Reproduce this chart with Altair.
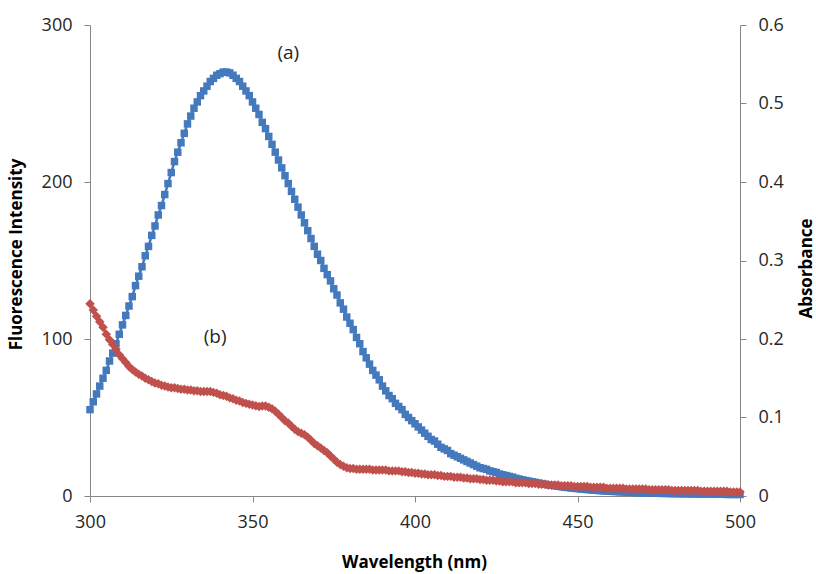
import altair as alt
import pandas as pd

wavelength = list(range(300, 501))

fluorescence = [
    55, 60, 65, 70, 75, 80, 86, 91, 97, 103,
    109, 115, 121, 127, 134, 140, 146, 153, 159, 166,
    172, 179, 185, 192, 199, 206, 213, 219, 225, 231,
    237, 242, 247, 251, 255, 258, 261, 264, 266, 268,
    269, 270, 270, 269.5, 268, 266, 264, 261, 258, 255,
    251, 247, 243, 238, 234, 229, 224, 219, 214, 209,
    204, 199, 194, 189, 184, 179, 174, 169, 164, 159,
    154, 150, 145, 141, 137, 132, 128, 123, 119, 114,
    110, 106, 101, 97, 92, 88, 84, 80, 77, 74,
    70, 67, 64, 62, 59, 57, 55, 52, 50, 48,
    46, 44, 42, 40, 38, 36, 35, 33, 31, 30,
    29, 27, 26, 25, 24, 23, 22, 21, 20, 19,
    18, 17.5, 17, 16, 15.5, 15, 14, 13.5, 13, 12.5,
    12, 11.3, 10.8, 10.3, 9.9, 9.5, 9.1, 8.7, 8.3, 7.9,
    7.5, 7.1, 6.8, 6.5, 6.2, 5.9, 5.6, 5.4, 5.1, 4.9,
    4.7, 4.5, 4.3, 4.1, 3.9, 3.7, 3.6, 3.4, 3.3, 3.1,
    3.0, 2.9, 2.8, 2.7, 2.6, 2.5, 2.4, 2.3, 2.2, 2.1,
    2.0, 1.9, 1.9, 1.8, 1.8, 1.7, 1.7, 1.6, 1.6, 1.5,
    1.5, 1.5, 1.4, 1.4, 1.4, 1.3, 1.3, 1.3, 1.2, 1.2,
    1.2, 1.2, 1.1, 1.1, 1.1, 1.1, 1.0, 1.0, 1.0, 1.0,
    1.0,
]

absorbance = [
    0.245, 0.237, 0.229, 0.222, 0.215, 0.206, 0.199, 0.193, 0.187, 0.180,
    0.175, 0.170, 0.165, 0.161, 0.158, 0.155, 0.153, 0.150, 0.148, 0.146,
    0.144, 0.143, 0.141, 0.140, 0.139, 0.138, 0.138, 0.137, 0.136, 0.136,
    0.135, 0.135, 0.134, 0.134, 0.133, 0.133, 0.133, 0.133, 0.132, 0.131,
    0.129, 0.128, 0.127, 0.125, 0.124, 0.122, 0.121, 0.119, 0.118, 0.117,
    0.116, 0.115, 0.114, 0.1145, 0.1145, 0.113, 0.111, 0.108, 0.104, 0.100,
    0.096, 0.093, 0.089, 0.085, 0.082, 0.080, 0.078, 0.075, 0.071, 0.067,
    0.064, 0.061, 0.058, 0.055, 0.051, 0.047, 0.043, 0.040, 0.038, 0.036,
    0.035, 0.035, 0.034, 0.034, 0.034, 0.034, 0.034, 0.033, 0.033, 0.033,
    0.033, 0.033, 0.032, 0.032, 0.032, 0.032, 0.031, 0.031, 0.030, 0.030,
    0.029, 0.029, 0.028, 0.028, 0.027, 0.027, 0.027, 0.026, 0.026, 0.025,
    0.025, 0.025, 0.024, 0.024, 0.024, 0.023, 0.023, 0.022, 0.022, 0.022,
    0.021, 0.021, 0.020, 0.020, 0.020, 0.019, 0.019, 0.018, 0.018, 0.018,
    0.018, 0.017, 0.017, 0.017, 0.017, 0.016, 0.016, 0.016, 0.015, 0.015,
    0.015, 0.014, 0.014, 0.014, 0.014, 0.013, 0.013, 0.013, 0.013, 0.012,
    0.012, 0.012, 0.012, 0.012, 0.011, 0.011, 0.011, 0.011, 0.011, 0.010,
    0.010, 0.010, 0.010, 0.010, 0.010, 0.009, 0.009, 0.009, 0.009, 0.009,
    0.009, 0.009, 0.008, 0.008, 0.008, 0.008, 0.008, 0.008, 0.008, 0.007,
    0.007, 0.007, 0.007, 0.007, 0.007, 0.007, 0.007, 0.007, 0.006, 0.006,
    0.006, 0.006, 0.006, 0.006, 0.006, 0.006, 0.006, 0.005, 0.005, 0.005,
    0.005,
]

label_text = ["(a)", "(b)"]
label_x = [361, 338.5]
label_y = [282, 101]

x_ticks = [300, 350, 400, 450, 500]
left_ticks = [0, 100, 200, 300]
right_ticks = [0, 0.1, 0.2, 0.3, 0.4, 0.5, 0.6]

BLUE = "#4579BD"
RED = "#C0504D"
AXIS_GRAY = "#868686"
FONT = "Open Sans"

df = pd.DataFrame({"wl": wavelength, "fl": fluorescence, "ab": absorbance})
labels = pd.DataFrame({"t": label_text, "x": label_x, "y": label_y})

x_enc = alt.X(
    "wl:Q",
    scale=alt.Scale(domain=[300, 500], nice=False),
    axis=alt.Axis(
        values=x_ticks,
        title="Wavelength (nm)",
        titleX=324,
        titleY=66,
        titleBaseline="middle",
        labelPadding=11,
        labelFlush=False,
        labelOverlap=False,
    ),
)

y_left = alt.Y(
    "fl:Q",
    scale=alt.Scale(domain=[0, 300], nice=False),
    axis=alt.Axis(
        values=left_ticks,
        title="Fluorescence Intensity",
        titleX=-74,
        titleY=229,
        titleAngle=270,
        titleAlign="center",
        titleBaseline="middle",
        labelPadding=12,
        labelFlush=False,
        orient="left",
    ),
)

y_right = alt.Y(
    "ab:Q",
    scale=alt.Scale(domain=[0, 0.6], nice=False),
    axis=alt.Axis(
        values=right_ticks,
        labelExpr="datum.value == 0 ? '0' : format(datum.value, '.1f')",
        title="Absorbance",
        titleX=66,
        titleY=243,
        titleAngle=270,
        titleAlign="center",
        titleBaseline="middle",
        labelPadding=12,
        labelFlush=False,
        orient="right",
    ),
)

base = alt.Chart(df)

blue_line = base.mark_line(color=BLUE, strokeWidth=2.5).encode(x=x_enc, y=y_left)
blue_pts = base.mark_point(
    shape="square", filled=True, size=56, color=BLUE, opacity=1
).encode(x=x_enc, y=y_left)

text = (
    alt.Chart(labels)
    .mark_text(font=FONT, fontSize=19, color="#262626")
    .encode(
        x=alt.X("x:Q", scale=alt.Scale(domain=[300, 500], nice=False)),
        y=alt.Y("y:Q", scale=alt.Scale(domain=[0, 300], nice=False)),
        text="t:N",
    )
)

left_layer = alt.layer(blue_line, blue_pts, text)

red_line = base.mark_line(color=RED, strokeWidth=2.5).encode(x=x_enc, y=y_right)
red_pts = base.mark_point(
    shape="diamond", filled=True, size=90, color=RED, opacity=1
).encode(x=x_enc, y=y_right)
right_layer = alt.layer(red_line, red_pts)

chart = (
    alt.layer(left_layer, right_layer)
    .resolve_scale(y="independent")
    .properties(
        width=650,
        height=471,
        autosize=alt.AutoSizeParams(type="none"),
        padding={"left": 90, "top": 25, "right": 76, "bottom": 78},
        background="white",
    )
    .configure_view(stroke=None)
    .configure_axis(
        grid=False,
        domainColor=AXIS_GRAY,
        tickColor=AXIS_GRAY,
        tickSize=6,
        labelFont=FONT,
        labelFontSize=18,
        labelColor="#262626",
        titleFont=FONT,
        titleFontSize=17,
        titleFontWeight="bold",
        titleColor="#000000",
    )
)

chart.save("out.html", embed_options={"renderer": "svg", "actions": False})
